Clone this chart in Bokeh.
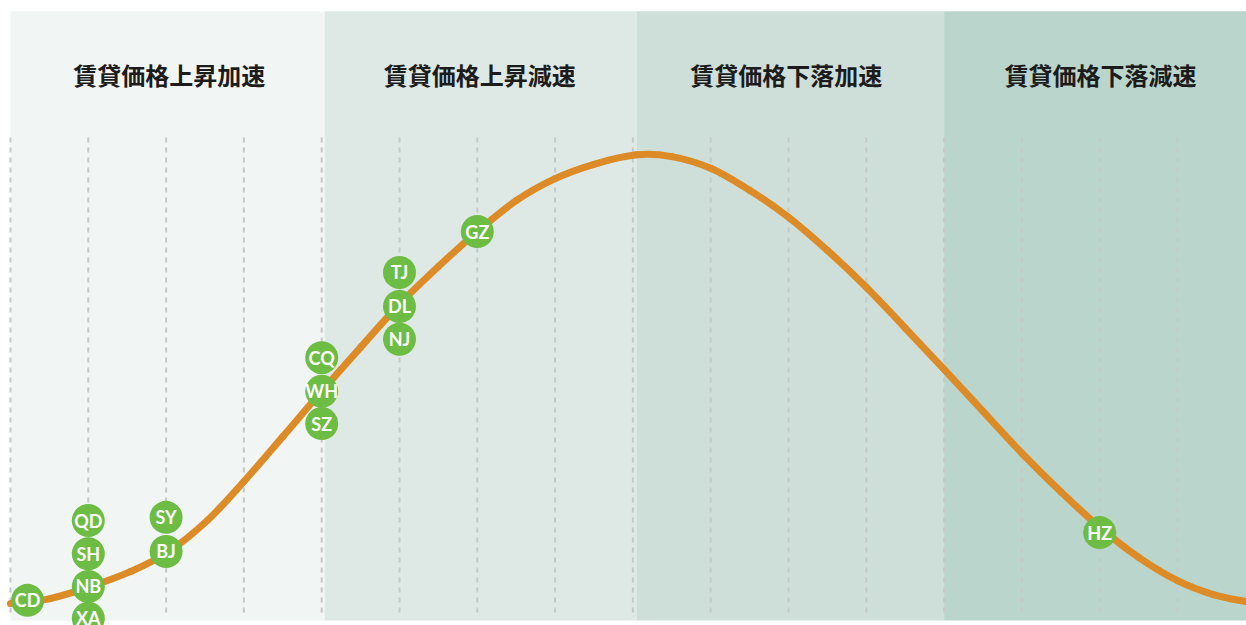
from bokeh.plotting import figure
from bokeh.models import Range1d, ColumnDataSource
from bokeh.core.properties import value
from bokeh.embed import file_html
from bokeh.resources import INLINE

# ---- data ----
phase_labels = ["賃貸価格上昇加速", "賃貸価格上昇減速", "賃貸価格下落加速", "賃貸価格下落減速"]
phase_label_x = [2.04, 6.03, 9.97, 14.01]
phase_edges = [0.0, 4.04, 8.05, 12.0, 16.0]
phase_colors = ["#f1f5f3", "#dee8e4", "#cddfd8", "#bad5cb"]

grid_stages = [0, 1, 2, 3, 4, 5, 6, 7, 8, 9, 10, 11, 12, 13, 14, 15]

curve_x = [0.0, 0.22, 0.51, 1.0, 1.54, 2.02, 2.53, 3.0, 3.5, 4.0, 4.5, 5.0, 5.5, 6.0,
           6.5, 7.0, 7.5, 8.05, 8.5, 9.0, 9.5, 10.0, 10.5, 11.0, 11.5, 12.0,
           12.5, 13.0, 13.5, 14.0, 14.5, 15.0, 15.46, 15.89]
curve_y = [0.0, 0.4, 1.1, 3.6, 7.1, 11.4, 18.5, 27.2, 37.2, 47.3, 57.1, 66.7, 75.1, 82.9,
           89.8, 94.7, 97.9, 100.0, 99.6, 97.0, 92.1, 86.1, 78.7, 70.5, 61.4, 52.2,
           42.8, 33.5, 24.9, 17.0, 10.3, 5.1, 2.0, 0.4]

cities = ["CD", "QD", "SH", "NB", "XA", "SY", "BJ", "CQ", "WH", "SZ", "TJ", "DL", "NJ", "GZ", "HZ"]
city_x = [0.22, 1.0, 1.0, 1.0, 1.0, 2.0, 2.0, 4.0, 4.0, 4.0, 5.0, 5.0, 5.0, 6.0, 14.0]
city_y = [0.7, 18.5, 11.1, 3.8, -3.3, 19.2, 11.6, 54.8, 47.3, 40.1, 73.8, 66.2, 58.9, 82.9, 15.8]

# ---- figure ----
p = figure(width=1246, height=625, output_backend="svg", toolbar_location=None,
           x_range=Range1d(-0.1285, 15.887), y_range=Range1d(-4.9, 134.4),
           min_border=0, background_fill_color="white", border_fill_color="white")
p.axis.visible = False
p.grid.visible = False
p.outline_line_color = None

band_top = 132.0
band_bottom = -3.8
p.quad(left=phase_edges[:-1], right=phase_edges[1:], bottom=band_bottom, top=band_top,
       fill_color=phase_colors, line_color=None)

p.segment(x0=grid_stages, x1=grid_stages, y0=-2.0, y1=103.9,
          line_color="#c4cac8", line_width=2, line_dash="5 5")

p.text(x=phase_label_x, y=[117.8] * 4, text=phase_labels,
       text_font=value("Noto Sans CJK JP"), text_font_style="bold",
       text_font_size="24px", text_color="#1c1c1c",
       text_align="center", text_baseline="middle")

# smooth rendering of the read points: one cubic Bezier per segment (Catmull-Rom tangents)
n = len(curve_x)
x0, y0, x1, y1, cx0, cy0, cx1, cy1 = [], [], [], [], [], [], [], []
for i in range(n - 1):
    ip = max(i - 1, 0)
    inn = min(i + 2, n - 1)
    x0.append(curve_x[i]); y0.append(curve_y[i])
    x1.append(curve_x[i + 1]); y1.append(curve_y[i + 1])
    cx0.append(curve_x[i] + (curve_x[i + 1] - curve_x[ip]) / 6)
    cy0.append(curve_y[i] + (curve_y[i + 1] - curve_y[ip]) / 6)
    cx1.append(curve_x[i + 1] - (curve_x[inn] - curve_x[i]) / 6)
    cy1.append(curve_y[i + 1] - (curve_y[inn] - curve_y[i]) / 6)
p.bezier(x0=x0, y0=y0, x1=x1, y1=y1, cx0=cx0, cy0=cy0, cx1=cx1, cy1=cy1,
         line_color="#dc8b27", line_width=7, line_cap="round")

src = ColumnDataSource(dict(x=city_x, y=city_y, name=cities))
p.scatter("x", "y", source=src, size=33, fill_color="#6dbd45", line_color=None)
p.text("x", "y", text="name", source=src, text_font=value("Lato"), text_font_style="bold",
       text_font_size="18px", text_color="white", text_align="center", text_baseline="middle")

open("out.html", "w").write(file_html(p, INLINE))
